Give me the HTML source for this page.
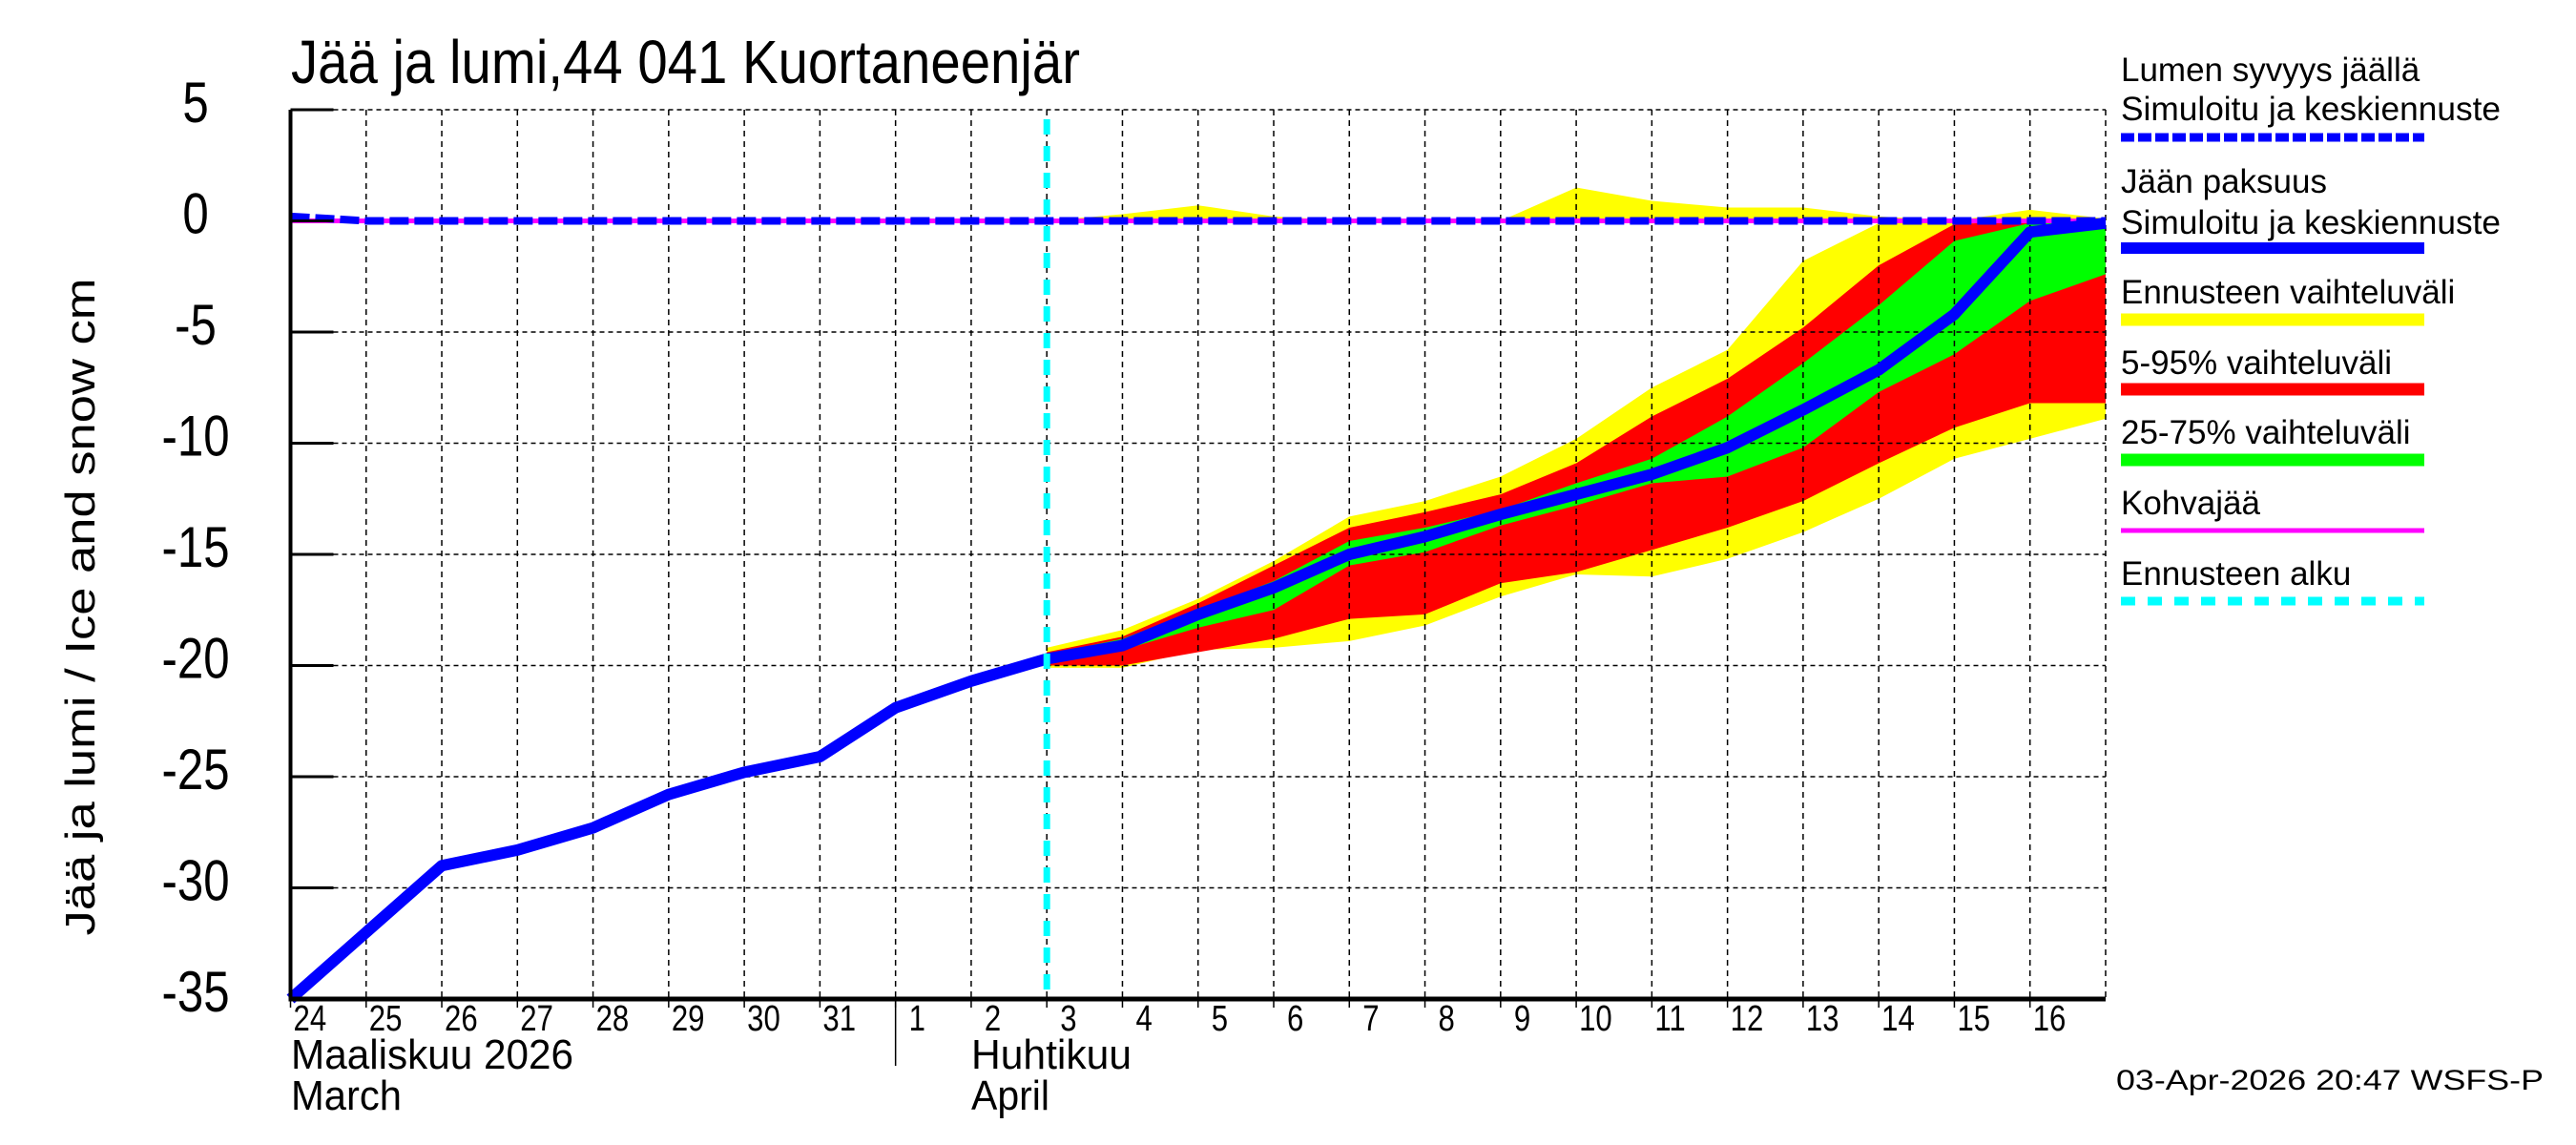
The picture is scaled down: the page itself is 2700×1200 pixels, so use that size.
<!DOCTYPE html>
<html><head><meta charset="utf-8"><style>
html,body{margin:0;padding:0;background:#fff}
svg{display:block;font-family:"Liberation Sans",Arial,sans-serif}
</style></head><body>
<svg id="chart" width="2700" height="1200" viewBox="0 0 2700 1200" xmlns="http://www.w3.org/2000/svg">
<g id="bands"></g><g id="grid"></g><g id="lines"></g><g id="axes"></g>
<text x="305" y="87" font-size="64" textLength="827" lengthAdjust="spacingAndGlyphs">Jää ja lumi,44 041 Kuortaneenjär</text>
<text transform="translate(99,636) rotate(-90)" text-anchor="middle" font-size="44" textLength="689" lengthAdjust="spacingAndGlyphs">Jää ja lumi / Ice and snow    cm</text>
<text x="305" y="1120" font-size="44" textLength="296" lengthAdjust="spacingAndGlyphs">Maaliskuu 2026</text>
<text x="305" y="1163" font-size="44" textLength="116" lengthAdjust="spacingAndGlyphs">March</text>
<text x="1018" y="1120" font-size="44" textLength="168" lengthAdjust="spacingAndGlyphs">Huhtikuu</text>
<text x="1018" y="1163" font-size="44" textLength="82" lengthAdjust="spacingAndGlyphs">April</text>
<text x="2218" y="1142" font-size="30" textLength="448" lengthAdjust="spacingAndGlyphs">03-Apr-2026 20:47 WSFS-P</text>
<g font-size="35">
<text x="2223" y="85">Lumen syvyys jäällä</text>
<text x="2223" y="126" textLength="398" lengthAdjust="spacingAndGlyphs">Simuloitu ja keskiennuste</text>
<line x1="2223" y1="144" x2="2541" y2="144" stroke="#0000ff" stroke-width="9" stroke-dasharray="14,4"/>
<text x="2223" y="202">Jään paksuus</text>
<text x="2223" y="245" textLength="398" lengthAdjust="spacingAndGlyphs">Simuloitu ja keskiennuste</text>
<line x1="2223" y1="260" x2="2541" y2="260" stroke="#0000ff" stroke-width="12"/>
<text x="2223" y="318">Ennusteen vaihteluväli</text>
<line x1="2223" y1="335" x2="2541" y2="335" stroke="#ffff00" stroke-width="13"/>
<text x="2223" y="392">5-95% vaihteluväli</text>
<line x1="2223" y1="408" x2="2541" y2="408" stroke="#ff0000" stroke-width="13"/>
<text x="2223" y="465">25-75% vaihteluväli</text>
<line x1="2223" y1="482" x2="2541" y2="482" stroke="#00ff00" stroke-width="13"/>
<text x="2223" y="539">Kohvajää</text>
<line x1="2223" y1="556" x2="2541" y2="556" stroke="#ff00ff" stroke-width="5"/>
<text x="2223" y="613">Ennusteen alku</text>
<line x1="2223" y1="630" x2="2541" y2="630" stroke="#00ffff" stroke-width="9" stroke-dasharray="15,13"/>
</g>
</svg>
<script>
const dayLabels=["24","25","26","27","28","29","30","31","1","2","3","4","5","6","7","8","9","10","11","12","13","14","15","16"];
const yTicks=[5,0,-5,-10,-15,-20,-25,-30,-35];
const iceObserved=[-35,-32.0,-29.0,-28.3,-27.3,-25.8,-24.8,-24.1,-21.9,-20.7,-19.7];
const iceMean=[-19.7,-19.1,-17.7,-16.5,-15.0,-14.2,-13.2,-12.3,-11.4,-10.2,-8.5,-6.7,-4.2,-0.5,-0.1];
const rangeMax=[-19.2,-18.4,-17.0,-15.3,-13.3,-12.6,-11.5,-9.8,-7.5,-5.8,-1.8,-0.1,0,0,0];
const rangeMin=[-20.1,-20.1,-19.3,-19.2,-18.9,-18.2,-16.9,-15.9,-16.0,-15.2,-14.0,-12.5,-10.7,-9.8,-8.9];
const p95=[-19.4,-18.7,-17.2,-15.5,-13.8,-13.1,-12.3,-10.9,-8.8,-7.1,-4.8,-2.0,-0.15,0,0];
const p5=[-20.0,-20.0,-19.4,-18.8,-17.9,-17.7,-16.3,-15.8,-14.8,-13.8,-12.6,-10.9,-9.3,-8.2,-8.2];
const p75=[-19.5,-18.8,-17.5,-16.2,-14.4,-13.8,-13.0,-11.8,-10.7,-8.8,-6.4,-3.8,-0.9,-0.1,0];
const p25=[-19.8,-19.3,-18.3,-17.5,-15.5,-14.9,-13.7,-12.8,-11.8,-11.5,-10.2,-7.7,-6.0,-3.6,-2.4];
const snowMax=[0,0.3,0.7,0.2,0,0,0,1.5,0.9,0.6,0.6,0.2,0,0.5,0.1];
const snowObserved=[0.2,0,0,0,0,0,0,0,0,0,0];
const snowMean=[0,0,0,0,0,0,0,0,0,0,0,0,0,0,0];
const slush=[0,0];
const forecastStartIndex=10;

const NS="http://www.w3.org/2000/svg";
const X0=304.5,DX=79.27,NDAYS=24;
function xs(i){return X0+i*DX;}
function ys(v){return 231.5-23.3*v;}
function mk(tag,attrs,parent){const e=document.createElementNS(NS,tag);for(const k in attrs)e.setAttribute(k,attrs[k]);parent.appendChild(e);return e;}
const bands=document.getElementById('bands'),grid=document.getElementById('grid'),lines=document.getElementById('lines'),axes=document.getElementById('axes');
function band(up,lo,color,name){
  let pts=[];
  up.forEach((v,i)=>pts.push(xs(forecastStartIndex+i)+','+ys(v)));
  for(let i=lo.length-1;i>=0;i--)pts.push(xs(forecastStartIndex+i)+','+ys(lo[i]));
  const p=mk('polygon',{points:pts.join(' '),fill:color},bands);
  
  
}
band(snowMax,snowMax.map(()=>0),'#ffff00','snow-range-band');
band(rangeMax,rangeMin,'#ffff00','forecast-range-band');
band(p95,p5,'#ff0000','band-5-95');
band(p75,p25,'#00ff00','band-25-75');
yTicks.forEach(v=>{
  if(v===-35)return;
  const l=mk('line',{x1:X0,x2:xs(NDAYS),y1:ys(v),y2:ys(v),stroke:'#000','stroke-width':1.5,'stroke-dasharray':'5,4'},grid);
  
  
});
for(let i=1;i<=NDAYS;i++){
  const l=mk('line',{x1:xs(i),x2:xs(i),y1:ys(5),y2:ys(-35),stroke:'#000','stroke-width':1.5,'stroke-dasharray':'6,5'},grid);
  
  
}
function poly(vals,start,attrs,name){
  const pts=vals.map((v,i)=>xs(start+i)+','+ys(v)).join(' ');
  const p=mk('polyline',Object.assign({points:pts,fill:'none'},attrs),lines);
  
  
}
const sl=mk('line',{x1:xs(0),x2:xs(NDAYS),y1:ys(slush[0]),y2:ys(slush[1]),stroke:'#ff00ff','stroke-width':5},lines);


poly(snowObserved.concat(snowMean.slice(1)),0,{stroke:'#0000ff','stroke-width':8,'stroke-dasharray':'20,6'},'snow-depth-line');
poly(iceObserved.concat(iceMean.slice(1)),0,{stroke:'#0000ff','stroke-width':12,'stroke-linejoin':'round'},'ice-thickness-line');
const fc=mk('line',{x1:xs(forecastStartIndex),x2:xs(forecastStartIndex),y1:125,y2:ys(-35),stroke:'#00ffff','stroke-width':7,'stroke-dasharray':'16,12'},lines);


const ya=mk('line',{x1:X0,x2:X0,y1:ys(5),y2:ys(-35)+2,stroke:'#000','stroke-width':4},axes);


const xa=mk('line',{x1:X0-2,x2:xs(NDAYS),y1:ys(-35),y2:ys(-35),stroke:'#000','stroke-width':5},axes);


yTicks.forEach(v=>{
  const t=mk('line',{x1:X0,x2:X0+45,y1:ys(v),y2:ys(v),stroke:'#000','stroke-width':3},axes);
  
  
  const tx=mk('text',{x:0,y:0,transform:'translate(205,'+(ys(v)+13)+') scale(0.82,1)','text-anchor':'middle','font-size':60},axes);
  tx.textContent=String(v);
  
  
});
dayLabels.forEach((d,i)=>{
  const tk=mk('line',{x1:xs(i),x2:xs(i),y1:ys(-35),y2:ys(-35)+9,stroke:'#000','stroke-width':1.5},axes);
  
  
  const tx=mk('text',{x:0,y:0,transform:'translate('+(xs(i)+(d.length===1?14:3))+',1080) scale(0.82,1)','font-size':38},axes);
  tx.textContent=d;
  
  
});
const ms=mk('line',{x1:xs(8),x2:xs(8),y1:ys(-35),y2:1117,stroke:'#000','stroke-width':1.5},axes);


</script>
</body></html>
